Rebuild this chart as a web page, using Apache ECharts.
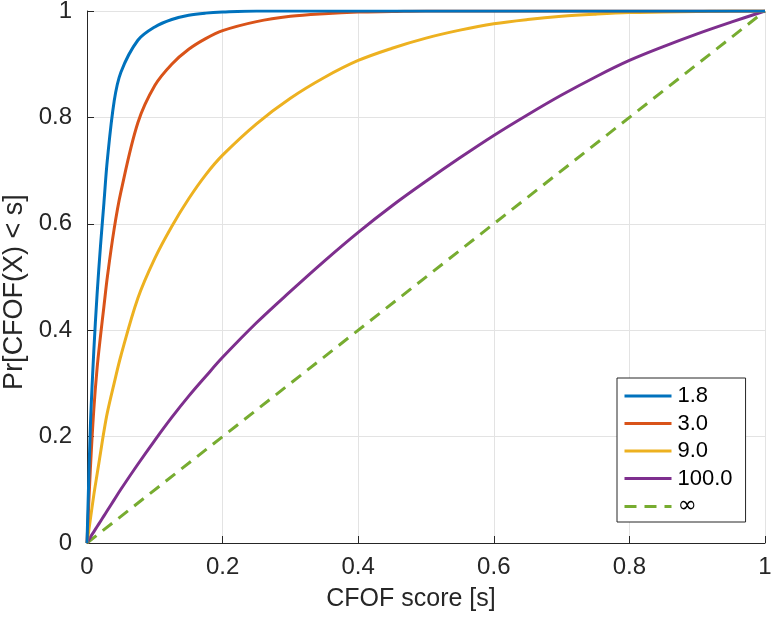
<!DOCTYPE html>
<html>
<head>
<meta charset="utf-8">
<script src="https://cdn.jsdelivr.net/npm/echarts@6/dist/echarts.min.js"></script>
<style>
  html, body { margin: 0; padding: 0; background: #fff; }
  #chart { width: 771px; height: 617px; }
</style>
</head>
<body>
<div id="chart"></div>
<script>
// CFOF score distribution
const legendNames = ['1.8', '3.0', '9.0', '100.0', '\u221e'];

// common score grid (denser near 0 where the curves are steep)
const sGrid = [0, 0.005, 0.01, 0.015, 0.02, 0.025, 0.03, 0.04, 0.05, 0.075, 0.1, 0.125, 0.15, 0.175, 0.2,
  0.25, 0.3, 0.35, 0.4, 0.45, 0.5, 0.55, 0.6, 0.65, 0.7, 0.75, 0.8, 0.85, 0.9, 0.95, 1];

const p18 = [0, 0.22, 0.36, 0.47, 0.56, 0.64, 0.72, 0.83, 0.885, 0.945, 0.97, 0.984, 0.992, 0.996, 0.998,
  1, 1, 1, 1, 1, 1, 1, 1, 1, 1, 1, 1, 1, 1, 1, 1];
const p30 = [0, 0.14, 0.25, 0.33, 0.39, 0.445, 0.5, 0.59, 0.66, 0.79, 0.86, 0.9, 0.928, 0.948, 0.963,
  0.98, 0.99, 0.995, 0.998, 0.999, 1, 1, 1, 1, 1, 1, 1, 1, 1, 1, 1];
const p90 = [0, 0.045, 0.09, 0.13, 0.17, 0.21, 0.245, 0.3, 0.352, 0.46, 0.535, 0.595, 0.647, 0.692, 0.729,
  0.788, 0.836, 0.875, 0.907, 0.93, 0.949, 0.964, 0.976, 0.984, 0.99, 0.994, 0.997, 0.998, 0.999, 1, 1];
const p100 = [0, 0.011, 0.021, 0.031, 0.041, 0.051, 0.061, 0.081, 0.101, 0.148, 0.193, 0.236, 0.276, 0.313, 0.349,
  0.414, 0.473, 0.53, 0.584, 0.634, 0.68, 0.724, 0.766, 0.805, 0.842, 0.876, 0.907, 0.933, 0.957, 0.979, 1];

const sInf = [0, 1];
const pInf = [0, 1];

const colors = ['#0072BD', '#D95319', '#EDB120', '#7E2F8E', '#77AC30'];

function pairs(xs, ys) {
  return xs.map((x, i) => [x, ys[i]]);
}

const curves = [
  pairs(sGrid, p18),
  pairs(sGrid, p30),
  pairs(sGrid, p90),
  pairs(sGrid, p100),
  pairs(sInf, pInf)
];

const font = 'Liberation Sans, Arial, sans-serif';
const chart = echarts.init(document.getElementById('chart'));

chart.setOption({
  animation: false,
  color: colors,
  grid: { left: 87, right: 6, top: 11, bottom: 74, outerBoundsMode: 'none' },
  legend: {
    data: legendNames,
    orient: 'vertical',
    left: 617,
    top: 378,
    padding: [7, 13, 4, 6],
    itemWidth: 47,
    itemHeight: 14,
    itemGap: 5.5,
    backgroundColor: '#fff',
    borderColor: '#262626',
    borderWidth: 1,
    borderRadius: 0,
    itemStyle: { opacity: 0 },
    lineStyle: { width: 3 },
    formatter: name => (name === '\u221e' ? '{inf|' + name + '}' : name),
    textStyle: {
      fontFamily: font, fontSize: 22, lineHeight: 22, color: '#000', padding: [0, 0, 0, 1],
      rich: { inf: { fontFamily: 'DejaVu Sans', fontSize: 23, lineHeight: 22, color: '#000' } }
    }
  },
  xAxis: {
    type: 'value',
    min: 0, max: 1, interval: 0.2,
    name: 'CFOF score [s]',
    nameLocation: 'middle',
    nameGap: 44,
    nameTextStyle: { fontFamily: font, fontSize: 25, color: '#262626', padding: [0, 30, 0, 0] },
    axisLine: { lineStyle: { color: '#262626', width: 1 } },
    axisTick: { inside: true, length: 7, lineStyle: { color: '#262626' } },
    axisLabel: { fontFamily: font, fontSize: 24, color: '#262626', margin: 12 },
    splitLine: { show: true, lineStyle: { color: '#e3e3e3', width: 1 } }
  },
  yAxis: {
    type: 'value',
    min: 0, max: 1, interval: 0.2,
    name: 'Pr[CFOF(X) < s]',
    nameLocation: 'middle',
    nameGap: 59,
    nameTextStyle: { fontFamily: font, fontSize: 27, color: '#262626', padding: [0, 30, 0, 0] },
    axisLine: { show: true, lineStyle: { color: '#262626', width: 1 } },
    axisTick: { show: true, inside: true, length: 7, lineStyle: { color: '#262626' } },
    axisLabel: { fontFamily: font, fontSize: 24, color: '#262626', margin: 15 },
    splitLine: { show: true, lineStyle: { color: '#e3e3e3', width: 1 } }
  },
  series: curves.map((d, i) => ({
    name: legendNames[i],
    type: 'line',
    data: d,
    symbol: 'none',
    smooth: i < 4 ? 0.35 : false,
    lineStyle: {
      width: 3,
      color: colors[i],
      type: i === 4 ? [12, 8] : 'solid'
    },
    z: 10 - i
  }))
});
</script>
</body>
</html>
